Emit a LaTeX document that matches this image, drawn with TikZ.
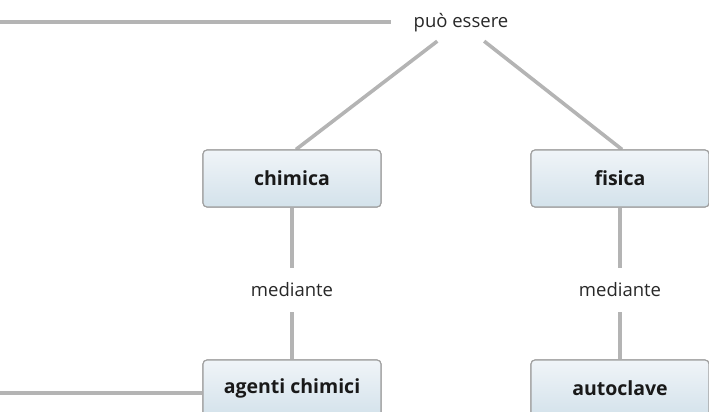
\documentclass[tikz,border=0pt]{standalone}
\usepackage{fontspec}
\setmainfont{Open Sans}
\usetikzlibrary{calc}
\definecolor{linkgray}{RGB}{180,180,180}
\definecolor{boxborder}{RGB}{160,160,160}
\definecolor{boxtop}{RGB}{240,244,248}
\definecolor{boxbottom}{RGB}{211,226,235}
\definecolor{labeltext}{RGB}{40,40,40}
\tikzset{
  concept/.style={draw=boxborder, line width=1.1pt, rounded corners=4pt,
    top color=boxtop, bottom color=boxbottom,
    minimum width=178pt, minimum height=57pt, inner sep=0pt,
    font=\fontsize{19.5}{22}\selectfont\bfseries, text=black!90},
  linklabel/.style={inner sep=0pt, font=\fontsize{18.5}{21}\selectfont, text=labeltext},
  link/.style={draw=linkgray, line width=3.6pt}
}
\begin{document}
\begin{tikzpicture}[x=1pt,y=-1pt]
  \useasboundingbox (0,0) rectangle (709,412);
  % concepts
  \node[concept] (chimica) at (292,178.5) {chimica};
  \node[concept] (fisica) at (620,178.5) {fisica};
  \node[concept] (agenti) at (292,388.5) {agenti chimici};
  \node[concept] (autoclave) at (620,388.5) {autoclave};
  % linking phrases
  \node[linklabel, minimum width=140pt, minimum height=36pt] (pe) at (461,23) {può essere};
  \node[linklabel, minimum width=110pt, minimum height=44pt] (med1) at (292,290) {mediante};
  \node[linklabel, minimum width=110pt, minimum height=44pt] (med2) at (620,290) {mediante};
  % loose ends running off to the left
  \coordinate (in1) at (0,22);
  \coordinate (in2) at (0,393);
  % connectors
  \draw[link] (in1) -- (in1 -| pe.west);
  \draw[link] (pe) -- ([xshift=4pt]chimica.north);
  \draw[link] (pe) -- ([xshift=2pt]fisica.north);
  \draw[link] (chimica) -- (med1);
  \draw[link] (med1) -- (agenti);
  \draw[link] (fisica) -- (med2);
  \draw[link] (med2) -- (autoclave);
  \draw[link] (in2) -- (in2 -| agenti.west);
  % redraw the concepts above the connectors
  \node[concept] at (chimica) {chimica};
  \node[concept] at (fisica) {fisica};
  \node[concept] at (agenti) {agenti chimici};
  \node[concept] at (autoclave) {autoclave};
\end{tikzpicture}
\end{document}
